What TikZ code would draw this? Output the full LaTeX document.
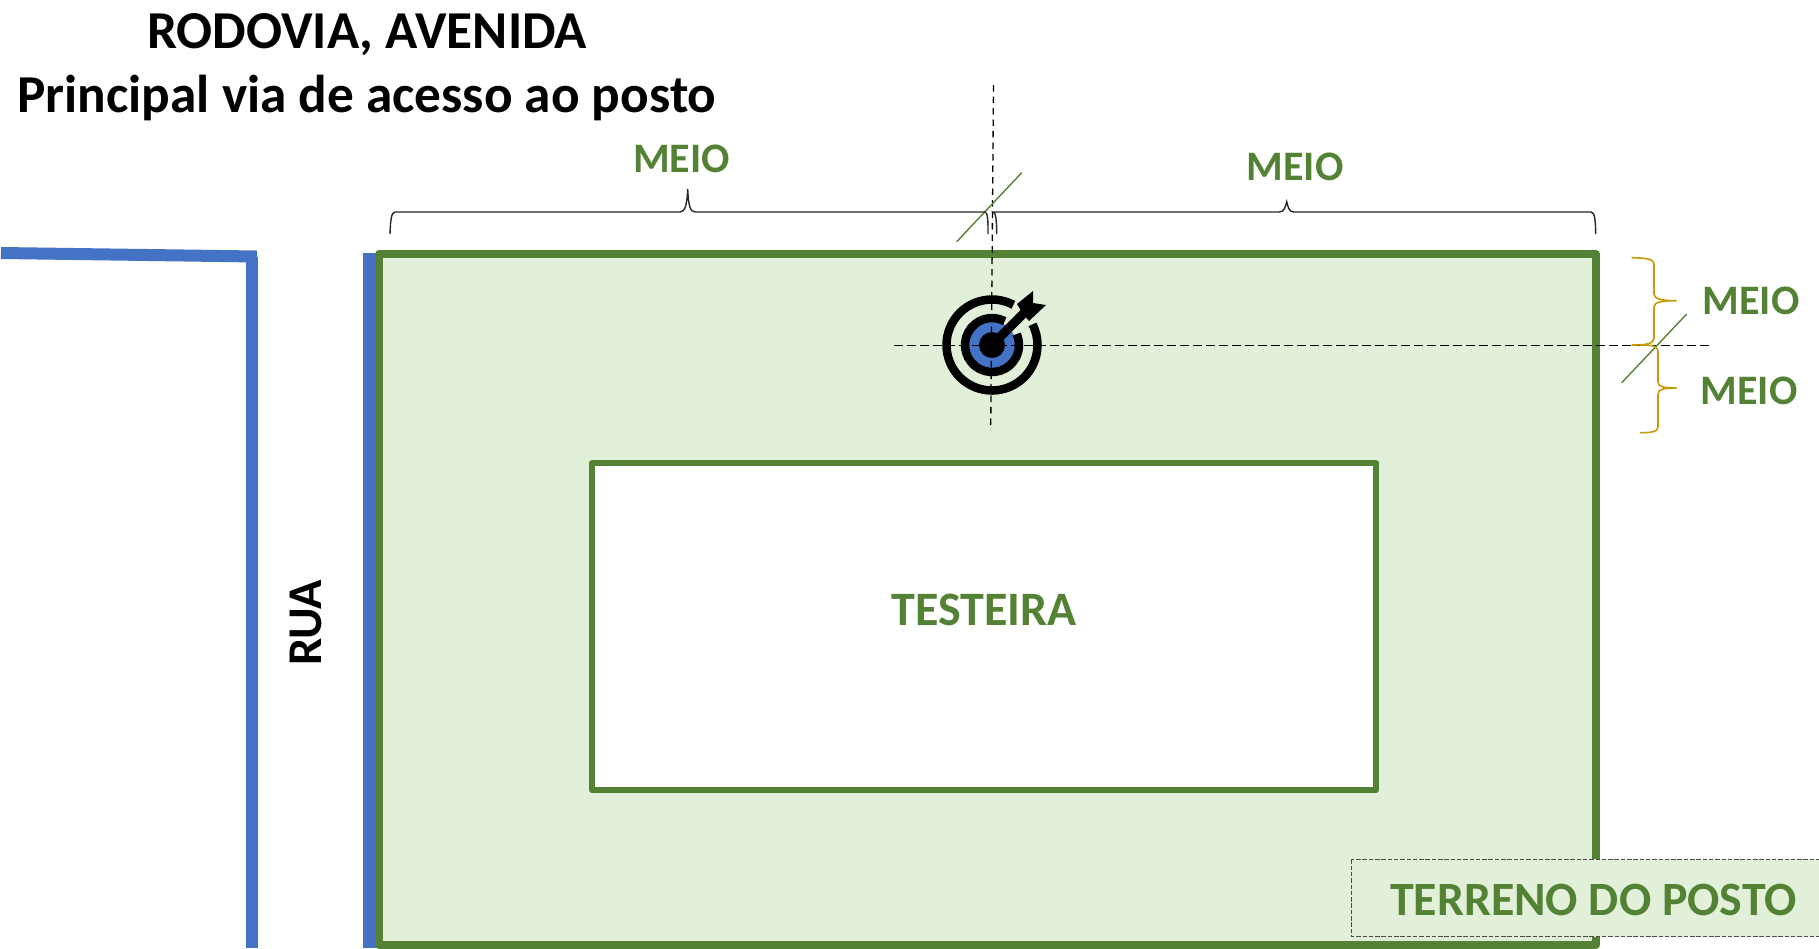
\documentclass[tikz,border=0pt]{standalone}
\usepackage{fontspec}
\setmainfont{Carlito}
\definecolor{grn}{HTML}{548235}
\definecolor{lgrn}{HTML}{E2F0D9}
\definecolor{blu}{HTML}{4472C4}
\definecolor{gold}{HTML}{C89A0A}
\tikzset{
 road/.style={draw=blu,line width=12pt},
 plot/.style={draw=grn,line width=7.5pt,line join=round},
 axish/.style={draw=black,line width=1.3pt,dash pattern=on 9pt off 4pt},
 axisv/.style={draw=black,line width=1.3pt,dash pattern=on 6.5pt off 5pt},
 tick/.style={draw=grn,line width=1.4pt},
 bracetop/.style={draw=black!85,line width=1.4pt},
 bracegold/.style={draw=gold,line width=1.6pt},
 lbl/.style={font=\bfseries\fontsize{42}{42}\selectfont,text=grn,inner sep=0pt},
 ttl/.style={font=\bfseries\fontsize{53.3}{53.3}\selectfont,text=black,inner sep=0pt},
}
\begin{document}
\begin{tikzpicture}[x=1pt,y=-1pt]
\useasboundingbox (0,0) rectangle (1819,948);
% roads
\draw[road] (1,253) -- (257,256.5);
\draw[road] (251.5,257) -- (251.5,948);
\draw[road,line width=14pt] (370,253) -- (370,948);
% plot
\filldraw[plot,fill=lgrn] (379,254) rectangle (1596,945);
\filldraw[plot,line width=6pt,fill=white] (592,463) rectangle (1376,790);
% target
\begin{scope}[shift={(992,345)},y=1pt]
 \draw[black,line width=8.5pt] (0,0) ++(62:45.5) arc[start angle=62,end angle=387,radius=45.5];
 \fill[blu] (0,0) circle[radius=24];
 \draw[black,line width=8.5pt] (0,0) ++(62:27) arc[start angle=62,end angle=384,radius=27];
 \fill[black] (0,0) circle[radius=13];
 \draw[black,line width=9pt] (0,0) -- (32,32);
 \fill[black] (25,41) -- (41,54) -- (41,42) -- (54,40) -- (37,24) -- (31,31) -- cycle;
\end{scope}
% axes
\coordinate (vt) at (993.5,85); \coordinate (vb) at (990.7,430);
\coordinate (hl) at (894,345.7); \coordinate (hr) at (1712,345.7);
\draw[axisv] (vt) -- (vb);
\draw[axish] (hl) -- (hr);
% ticks
\draw[tick] (956.7,241.7) -- (1021.7,172.7);
\draw[tick] (1621.7,382.7) -- (1686.7,314);
% top braces
\draw[bracetop] (390,234) .. controls (390.5,222) and (391,212) .. (395,212) -- (680,212)
  .. controls (685,212) and (687,205) .. (687.7,189) .. controls (688.4,205) and (690,212) .. (695,212)
  -- (985,212) .. controls (988,212) and (988,222) .. (988,234);
\draw[bracetop] (996.7,234) .. controls (996.7,222) and (996,212) .. (993,212) -- (1279,212)
  .. controls (1284,212) and (1285,208) .. (1286.7,201.7) .. controls (1288.4,208) and (1289,212) .. (1294,212)
  -- (1591,212) .. controls (1595,212) and (1595.5,222) .. (1595.7,234);
% right braces
\draw[bracegold] (1631.7,257.7) .. controls (1646,258) and (1654,259) .. (1654,264) -- (1654,294)
  .. controls (1654,299) and (1662,300.7) .. (1676.7,300.7) .. controls (1662,300.7) and (1654,302) .. (1654,307)
  -- (1654,338) .. controls (1654,344) and (1646,345) .. (1631.7,345);
\draw[bracegold] (1640,345) .. controls (1650,345) and (1658,345) .. (1658,352) -- (1658,382)
  .. controls (1658,387) and (1664,388) .. (1676.7,388) .. controls (1664,388) and (1658,389) .. (1658,394)
  -- (1658,427) .. controls (1658,432) and (1650,432.7) .. (1640,432.7);
% texts
\node[ttl] (t1) at (367,35) {RODOVIA, AVENIDA};
\node[ttl] (t2) at (367,98) {Principal via de acesso ao posto};
\node[lbl] (m1) at (681.5,158.5) {MEIO};
\node[lbl] (m2) at (1295,166.5) {MEIO};
\node[lbl] (m3) at (1751,301) {MEIO};
\node[lbl] (m4) at (1749,391) {MEIO};
\node[lbl,font=\bfseries\fontsize{48}{48}\selectfont] (test) at (984,610) {TESTEIRA};
\node[ttl,font=\bfseries\fontsize{48.5}{48.5}\selectfont,rotate=90] (rua) at (306,623) {RUA};
% label box
\filldraw[fill=lgrn,draw=black!70,line width=1.2pt,dash pattern=on 4.5pt off 1.8pt] (1351.7,859.3) rectangle (1830,936.7);
\node[lbl,font=\bfseries\fontsize{47.8}{47.8}\selectfont] (terr) at (1593.5,900) {TERRENO DO POSTO};
\end{tikzpicture}
\end{document}
